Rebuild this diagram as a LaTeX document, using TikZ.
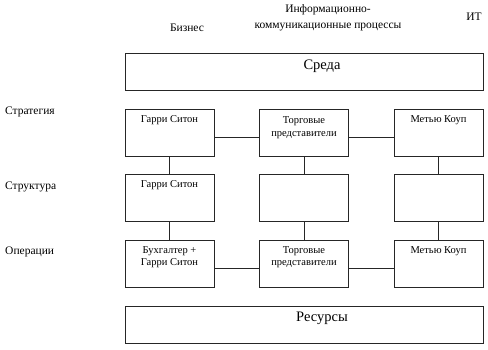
\documentclass[tikz,border=0pt]{standalone}
\usepackage{fontspec}
\setmainfont{Liberation Serif}
\newfontfamily\tnr{Liberation Serif}
\begin{document}
\begin{tikzpicture}[x=1pt,y=-1pt,
  box/.style={draw=black!85,line width=0.8pt,minimum width=89pt,minimum height=47pt,inner sep=0pt},
  wide/.style={draw=black!85,line width=0.8pt,minimum width=358pt,minimum height=37pt,inner sep=0pt},
  conn/.style={draw=black!85,line width=0.8pt},
  btxt/.style={font=\tnr\fontsize{10.5}{12.5}\selectfont,align=center,inner sep=0pt},
  lbl/.style={font=\tnr\fontsize{11.5}{16}\selectfont,align=center,inner sep=0pt},
  big/.style={font=\tnr\fontsize{14.5}{16}\selectfont,inner sep=0pt}]
\useasboundingbox (0,0) rectangle (488,350);
% headers
\node[lbl] (hb) at (187,28) {Бизнес};
\node[lbl] (hi) at (328,18) {Информационно-\\коммуникационные процессы};
\node[lbl] (ht) at (474,17) {ИТ};
% row labels
\node[lbl,anchor=west] (ls) at (5,112) {Стратегия};
\node[lbl,anchor=west] (lt) at (5,187) {Структура};
\node[lbl,anchor=west] (lo) at (5,252) {Операции};
% environment
\node[wide] (env) at (304,71.5) {};
\node[big] (envt) at (322,66) {Среда};
\node[wide] (res) at (304,324.5) {};
\node[big] (rest) at (322,318) {Ресурсы};
% boxes
\node[box] (s1) at (169.5,132.5) {};
\node[box] (s2) at (304,132.5) {};
\node[box] (s3) at (438.5,132.5) {};
\node[box] (t1) at (169.5,198) {};
\node[box] (t2) at (304,198) {};
\node[box] (t3) at (438.5,198) {};
\node[box] (o1) at (169.5,263.5) {};
\node[box] (o2) at (304,263.5) {};
\node[box] (o3) at (438.5,263.5) {};
% box texts
\node[btxt] (s1t) at (169.5,120) {Гарри Ситон};
\node[btxt] (s2t) at (304,127.5) {Торговые\\представители};
\node[btxt] (s3t) at (438.5,120) {Метью Коуп};
\node[btxt] (t1t) at (169.5,185) {Гарри Ситон};
\node[btxt] (o1t) at (169.5,257) {Бухгалтер +\\Гарри Ситон};
\node[btxt] (o2t) at (304,257) {Торговые\\представители};
\node[btxt] (o3t) at (438.5,251) {Метью Коуп};
% connectors
\draw[conn] ([yshift=-4.5pt]s1.east) -- ([yshift=-4.5pt]s2.west);
\draw[conn] ([yshift=-4.5pt]s2.east) -- ([yshift=-4.5pt]s3.west);
\draw[conn] ([yshift=-4.5pt]o1.east) -- ([yshift=-4.5pt]o2.west);
\draw[conn] ([yshift=-4.5pt]o2.east) -- ([yshift=-4.5pt]o3.west);
\draw[conn] (s1.south) -- (t1.north);
\draw[conn] (s2.south) -- (t2.north);
\draw[conn] (s3.south) -- (t3.north);
\draw[conn] (t1.south) -- (o1.north);
\draw[conn] (t2.south) -- (o2.north);
\draw[conn] (t3.south) -- (o3.north);
\end{tikzpicture}
\end{document}
